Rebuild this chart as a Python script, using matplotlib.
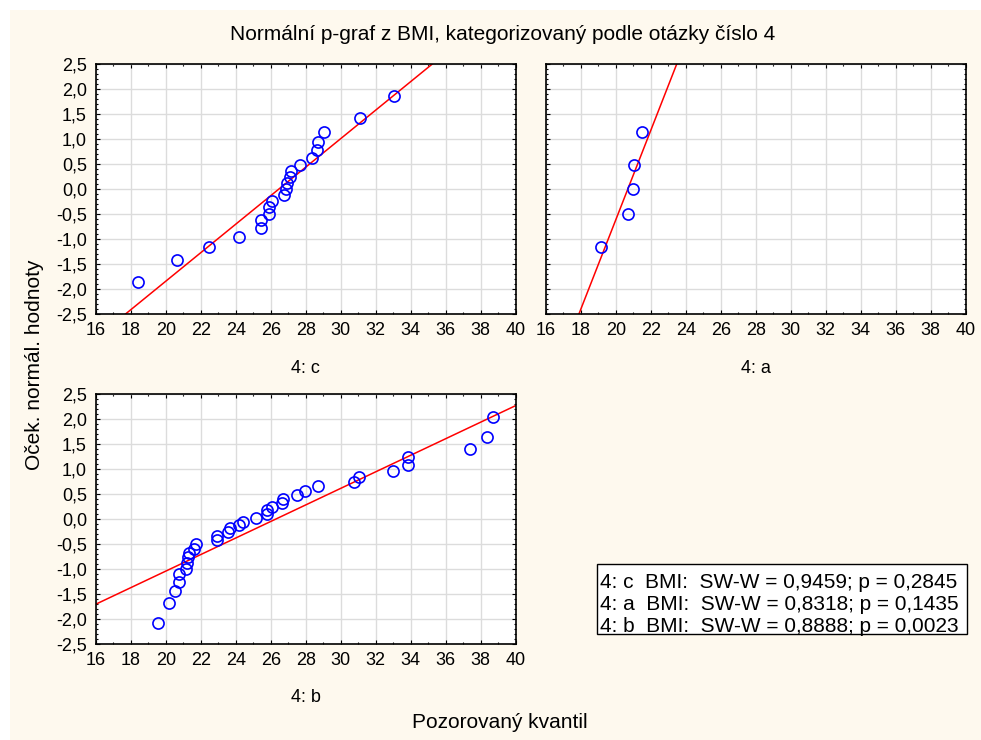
import matplotlib
matplotlib.use("Agg")
import matplotlib.pyplot as plt
import numpy as np
from matplotlib.ticker import MultipleLocator, FuncFormatter
from matplotlib.patches import Rectangle

plt.rcParams['font.family'] = ['Liberation Sans', 'DejaVu Sans']

# Observed BMI (x) and expected normal values (y) for each group
c_bmi = [18.38, 20.65, 22.44, 24.20, 25.42, 25.44, 25.87, 25.89, 26.08, 26.73, 26.88,
         26.94, 27.08, 27.17, 27.67, 28.37, 28.62, 28.70, 29.04, 31.12, 33.02]
c_exp = [-1.87, -1.42, -1.157, -0.956, -0.782, -0.628, -0.495, -0.368, -0.241, -0.127, -0.007,
         0.114, 0.234, 0.354, 0.481, 0.615, 0.775, 0.936, 1.150, 1.417, 1.858]

a_bmi = [19.13, 20.67, 20.96, 21.01, 21.47]
a_exp = [-1.157, -0.495, -0.007, 0.481, 1.150]

b_bmi = [19.53, 20.19, 20.52, 20.75, 20.77, 21.13, 21.22, 21.26, 21.32, 21.59, 21.72,
         22.94, 22.94, 23.57, 23.64, 24.16, 24.43, 25.17, 25.80, 25.80, 26.08, 26.64,
         26.69, 27.51, 27.95, 28.68, 30.77, 31.04, 33.00, 33.86, 33.86, 37.39, 38.34, 38.72]
b_exp = [-2.079, -1.678, -1.437, -1.263, -1.110, -0.996, -0.876, -0.769, -0.675, -0.595, -0.508,
         -0.428, -0.348, -0.267, -0.187, -0.127, -0.053, 0.013, 0.100, 0.174, 0.247, 0.314,
         0.401, 0.475, 0.561, 0.655, 0.735, 0.849, 0.956, 1.076, 1.237, 1.404, 1.644, 2.045]

# fitted normal line: mean and sd
c_fit = (26.46, 3.50)
a_fit = (20.68, 1.116)
b_fit = (26.29, 6.03)

legend_lines = ["4: c  BMI:  SW-W = 0,9459; p = 0,2845",
                "4: a  BMI:  SW-W = 0,8318; p = 0,1435",
                "4: b  BMI:  SW-W = 0,8888; p = 0,0023"]

W, H = 981, 740
fig = plt.figure(figsize=(W / 100, H / 100), dpi=100, facecolor="white")
fig.patches.append(Rectangle((10 / W, 0), 1 - 10 / W, 1 - 10 / H, transform=fig.transFigure,
                             facecolor="#fef9ee", edgecolor="none", zorder=-10))

def comma(v, p):
    return f"{v:.1f}".replace(".", ",").replace("-0,0", "0,0")

def make_axes(left, top, xdata, ydata, fit, label, label_y, ylabels=True):
    w, h = 419.7, 249.4
    ax = fig.add_axes([left / W, (H - top - h) / H, w / W, h / H])
    ax.set_facecolor("white")
    ax.set_xlim(16, 40)
    ax.set_ylim(-2.5, 2.5)
    ax.xaxis.set_major_locator(MultipleLocator(2))
    ax.xaxis.set_minor_locator(MultipleLocator(1))
    ax.yaxis.set_major_locator(MultipleLocator(0.5))
    ax.yaxis.set_minor_locator(MultipleLocator(0.1))
    ax.yaxis.set_major_formatter(FuncFormatter(comma))
    ax.tick_params(which="both", direction="in", top=True, right=True, labelsize=13,
                   width=0.8, colors="black")
    ax.tick_params(which="major", length=3)
    ax.tick_params(which="minor", length=1.5)
    ax.tick_params(axis="x", pad=6)
    ax.tick_params(axis="y", pad=6.5)
    if not ylabels:
        ax.tick_params(labelleft=False)
    ax.grid(True, which="major", color="#dcdcdc", lw=1)
    ax.set_axisbelow(True)
    for s in ax.spines.values():
        s.set_linewidth(1.2)
    xs = np.array([16, 40])
    ax.plot(xs, (xs - fit[0]) / fit[1], color="red", lw=1.1, zorder=2)
    ax.plot(xdata, ydata, "o", mfc="none", mec="blue", ms=8, mew=1.2, zorder=3)
    ax.text(0.5, 1 - (label_y - top) / h, label, transform=ax.transAxes,
            ha="center", va="center", fontsize=13)
    return ax

make_axes(96, 64.3, c_bmi, c_exp, c_fit, "4: c", 369)
make_axes(546, 64.3, a_bmi, a_exp, a_fit, "4: a", 369, ylabels=False)
make_axes(96, 394.3, b_bmi, b_exp, b_fit, "4: b", 698)

fig.text(503 / W, 1 - 34 / H, "Normální p-graf z BMI, kategorizovaný podle otázky číslo 4",
         ha="center", va="center", fontsize=15)
fig.text(500 / W, 1 - 722 / H, "Pozorovaný kvantil", ha="center", va="center", fontsize=15)
fig.text(35 / W, 1 - 365 / H, "Oček. normál. hodnoty", ha="center", va="center",
         rotation=90, fontsize=15)

fig.patches.append(Rectangle((597 / W, 1 - 634 / H), 370 / W, 70 / H, transform=fig.transFigure,
                             facecolor="white", edgecolor="black", lw=1))
for i, line in enumerate(legend_lines):
    fig.text(600 / W, 1 - (582 + 22.5 * i) / H, line, ha="left", va="center", fontsize=15)

fig.savefig("out.png", dpi=100, facecolor=fig.get_facecolor())
